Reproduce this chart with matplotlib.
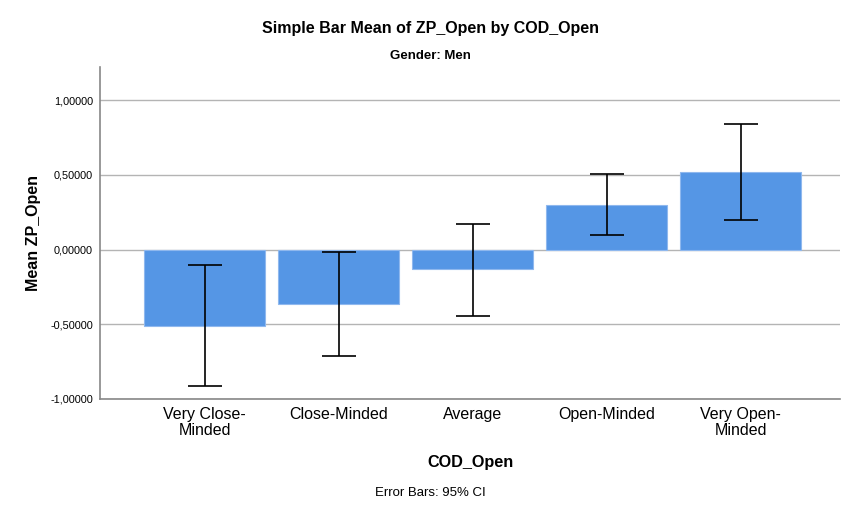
import matplotlib
matplotlib.use("Agg")
import matplotlib.pyplot as plt
from matplotlib.ticker import FixedLocator, FuncFormatter

plt.rcParams['font.family'] = ['Liberation Sans', 'DejaVu Sans']

categories = ["Very Close-\nMinded", "Close-Minded", "Average", "Open-Minded", "Very Open-\nMinded"]
means = [-0.508, -0.363, -0.131, 0.299, 0.517]
ci_low = [-0.911, -0.713, -0.442, 0.098, 0.199]
ci_high = [-0.105, -0.015, 0.172, 0.508, 0.838]
yticks = [-1.0, -0.5, 0.0, 0.5, 1.0]

fig = plt.figure(figsize=(8.68, 5.15), dpi=100)
ax = fig.add_axes([100/868, 1-399/515, 740/868, (399-67)/515])

x = list(range(len(categories)))
err_lo = [m - l for m, l in zip(means, ci_low)]
err_hi = [h - m for m, h in zip(means, ci_high)]

ax.set_axisbelow(True)
ax.yaxis.grid(True, color='#b4b4b4', linewidth=1.0)
ax.bar(x, means, width=0.9, color='#5596e5', edgecolor='#8fb8ee', linewidth=0.8, zorder=2)
ax.errorbar(x, means, yerr=[err_lo, err_hi], fmt='none', ecolor='black',
            elinewidth=1.2, capsize=12, capthick=1.2, zorder=3)

ax.set_xlim(-0.78, 4.74)
ax.set_ylim(-1.0, 1.223)
ax.yaxis.set_major_locator(FixedLocator(yticks))
ax.yaxis.set_major_formatter(FuncFormatter(lambda v, p: f"{v:.5f}".replace('.', ',')))
ax.set_xticks(x)
ax.set_xticklabels(categories, fontsize=11.5, linespacing=1.05)
ax.tick_params(axis='both', length=0)
ax.tick_params(axis='y', labelsize=7.8, pad=5)
ax.tick_params(axis='x', pad=6)

for s in ['top', 'right']:
    ax.spines[s].set_visible(False)
for s in ['left', 'bottom']:
    ax.spines[s].set_color('#888888')
    ax.spines[s].set_linewidth(1.2)

ax.set_ylabel("Mean ZP_Open", fontsize=11.5, fontweight='bold', labelpad=7)
ax.set_xlabel("COD_Open", fontsize=11.7, fontweight='bold', labelpad=12)

fig.text(430/868, 1-28/515, "Simple Bar Mean of ZP_Open by COD_Open", ha='center', va='center',
         fontsize=11.5, fontweight='bold')
fig.text(430/868, 1-56/515, "Gender: Men", ha='center', va='center', fontsize=9.5, fontweight='bold')
fig.text(430/868, 1-493/515, "Error Bars: 95% CI", ha='center', va='center', fontsize=9.5)

fig.savefig("out.png", dpi=100)
